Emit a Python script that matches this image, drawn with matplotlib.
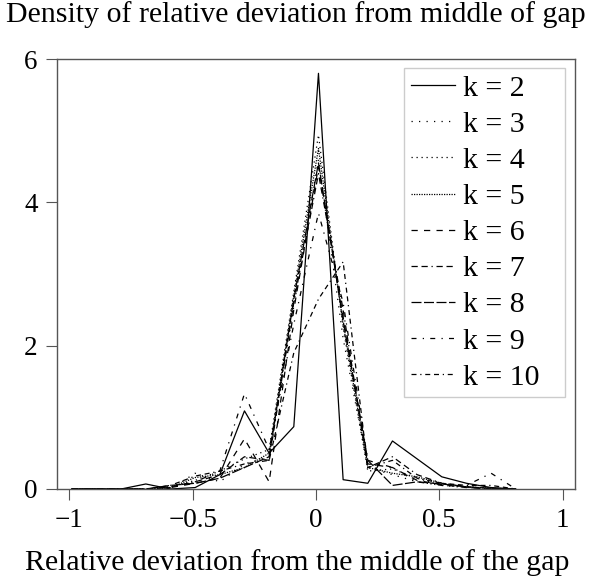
import matplotlib
matplotlib.use("Agg")
from matplotlib import pyplot as plt

plt.rcParams["font.family"] = ["Liberation Serif", "DejaVu Serif"]

# bin centres of the deviation histogram
x_dev = [-0.99, -0.89, -0.79, -0.69, -0.59, -0.49, -0.39, -0.29, -0.19, -0.09,
         0.01, 0.11, 0.21, 0.31, 0.41, 0.51, 0.61, 0.71, 0.81]

dens_k2 = [0, 0, 0, 0.07, 0, 0.02, 0.2, 1.09, 0.5, 0.87, 5.8, 0.13, 0.08, 0.67, 0.42, 0.17, 0.08, 0.02, 0]
dens_k3 = [0, 0, 0, 0, 0, 0.22, 0.1, 0.35, 0.45, 2.55, 4.6, 2.1, 0.3, 0.2, 0.1, 0.05, 0.02, 0, 0]
dens_k4 = [0, 0, 0, 0, 0.03, 0.12, 0.25, 0.42, 0.55, 2.75, 4.94, 2.25, 0.25, 0.28, 0.15, 0.05, 0.03, 0.01, 0]
dens_k5 = [0, 0, 0, 0, 0.02, 0.16, 0.2, 0.3, 0.5, 2.7, 4.75, 2.3, 0.3, 0.22, 0.17, 0.08, 0.03, 0.01, 0]
dens_k6 = [0, 0, 0, 0, 0.02, 0.08, 0.15, 0.7, 0.1, 2.5, 4.5, 2.4, 0.35, 0.3, 0.12, 0.06, 0.02, 0, 0]
dens_k7 = [0, 0, 0, 0, 0.03, 0.1, 0.2, 0.45, 0.4, 2.6, 4.4, 2.5, 0.3, 0.45, 0.2, 0.08, 0.03, 0, 0]
dens_k8 = [0, 0, 0, 0, 0.05, 0.08, 0.15, 0.3, 0.45, 2.65, 4.55, 2.35, 0.4, 0.05, 0.1, 0.07, 0.03, 0.01, 0]
dens_k9 = [0, 0, 0, 0, 0.02, 0.1, 0.25, 1.33, 0.55, 2.3, 3.85, 2.6, 0.4, 0.3, 0.1, 0.05, 0.05, 0.22, 0]
dens_k10 = [0, 0, 0, 0, 0.05, 0.18, 0.25, 0.35, 0.4, 1.9, 2.65, 3.17, 0.3, 0.4, 0.15, 0.08, 0.05, 0.05, 0]

series = [
    ("k = 2", dens_k2, "-"),
    ("k = 3", dens_k3, (0, (1, 5))),
    ("k = 4", dens_k4, (0, (1, 3))),
    ("k = 5", dens_k5, (0, (1, 1))),
    ("k = 6", dens_k6, (0, (5, 5))),
    ("k = 7", dens_k7, (0, (5, 3, 5, 3, 1, 3))),
    ("k = 8", dens_k8, (0, (8, 2))),
    ("k = 9", dens_k9, (0, (4, 5, 1, 5))),
    ("k = 10", dens_k10, (0, (4, 3, 1, 3, 4, 3))),
]

fig = plt.figure(figsize=(5.91, 5.82), dpi=100)
ax = fig.add_axes([57 / 591, 1 - 489 / 582, 518 / 591, 430 / 582])

for label, dens, ls in series:
    ax.plot(x_dev, dens, color="black", linestyle=ls, linewidth=0.9, label=label)

ax.set_xlim(-1.05, 1.05)
ax.set_ylim(0, 6)
ax.set_xticks([-1, -0.5, 0, 0.5, 1])
ax.set_xticklabels(["\u22121", "\u22120.5", "0", "0.5", "1"])
ax.set_yticks([0, 2, 4, 6])
ax.tick_params(direction="out", length=8, width=0.8, color="#555555",
               labelsize=19.5, pad=6)
for sp in ax.spines.values():
    sp.set_color("#555555")
    sp.set_linewidth(1.0)

# legend box spans x 404..565 px, top at 68 px
leg = ax.legend(loc="upper left", bbox_to_anchor=(0.670, 0.0, 0.311, 0.979),
                mode="expand", borderaxespad=0,
                fontsize=21.5, handlelength=1.5, handletextpad=0.25,
                labelspacing=0.31, borderpad=0.22, fancybox=False, framealpha=1)
leg.get_frame().set_edgecolor("#cccccc")
leg.get_frame().set_linewidth(1.0)

fig.text(0.5, 1 - 15 / 582, "Density of relative deviation from middle of gap",
         ha="center", va="center", fontsize=21.5)
fig.text(0.503, 1 - 563 / 582, "Relative deviation from the middle of the gap",
         ha="center", va="center", fontsize=21.5)

fig.savefig("out.png", dpi=100)
plt.close(fig)
